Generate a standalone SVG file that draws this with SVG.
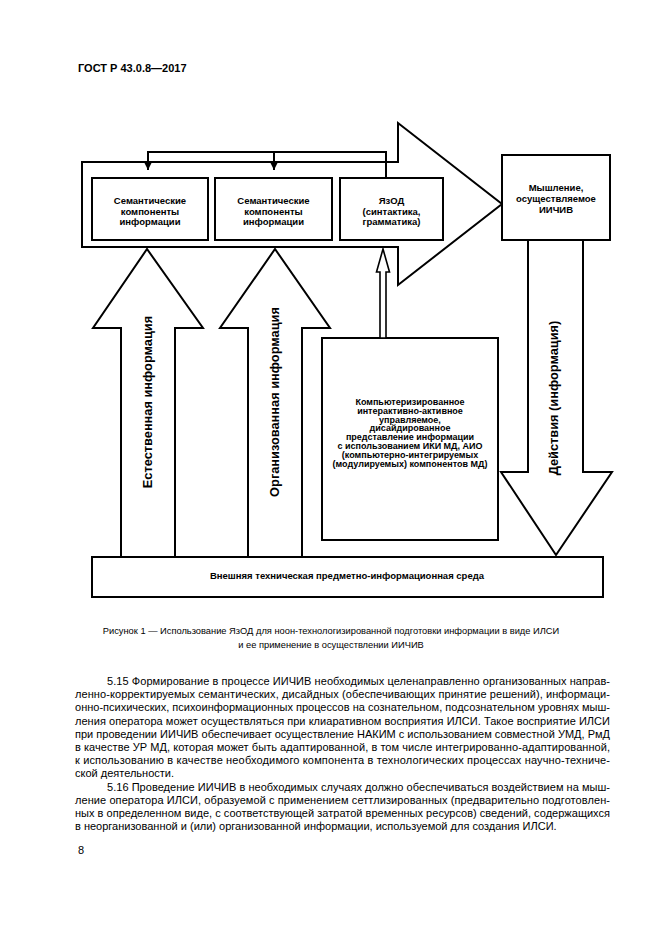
<svg xmlns="http://www.w3.org/2000/svg" width="661" height="935" viewBox="0 0 661 935">
<defs>
<style>
.ln{fill:none;stroke:#000;stroke-width:2;stroke-linejoin:miter}
.wf{fill:#fff;stroke:#000;stroke-width:2}
.bx{font-family:"Liberation Sans",Arial,sans-serif;font-weight:bold;font-size:9.5px;text-anchor:middle;fill:#000}
.bb{font-family:"Liberation Sans",Arial,sans-serif;font-weight:bold;font-size:9px;text-anchor:middle;fill:#000}
.vt{font-family:"Liberation Sans",Arial,sans-serif;font-weight:bold;font-size:12.8px;text-anchor:middle;fill:#000}
.body{font-family:"Liberation Sans",Arial,sans-serif;font-size:11px;fill:#000}
.cap{font-family:"Liberation Sans",Arial,sans-serif;font-size:9.3px;fill:#000;text-anchor:middle}
</style>
<marker id="ah" viewBox="0 0 8 10" refX="8" refY="5" markerWidth="8" markerHeight="10" markerUnits="userSpaceOnUse" orient="auto">
<path d="M0,1 L8,5 L0,9 Z" fill="#000"/>
</marker>
</defs>
<rect width="661" height="935" fill="#fff"/>
<text x="78" y="72" font-family="Liberation Sans,Arial,sans-serif" font-weight="bold" font-size="11">ГОСТ Р 43.0.8—2017</text>

<g id="big-arrow">
<polygon class="wf" points="82,162 398,162 398,123 502,204 398,285 398,247 82,247"/>
</g>

<g id="node-sem1">
<rect class="wf" x="92" y="178" width="116" height="62"/>
<text class="bx" x="150" y="204">Семантические</text>
<text class="bx" x="150" y="214.5">компоненты</text>
<text class="bx" x="150" y="225">информации</text>
</g>
<g id="node-sem2">
<rect class="wf" x="215" y="178" width="117" height="62"/>
<text class="bx" x="273.5" y="204">Семантические</text>
<text class="bx" x="273.5" y="214.5">компоненты</text>
<text class="bx" x="273.5" y="225">информации</text>
</g>
<g id="node-yazod">
<rect class="wf" x="340" y="178" width="103" height="62"/>
<text class="bx" x="391.5" y="204">ЯзОД</text>
<text class="bx" x="391.5" y="214.5">(синтактика,</text>
<text class="bx" x="391.5" y="225">грамматика)</text>
</g>
<g id="node-thinking">
<rect class="wf" x="502" y="155" width="108" height="85"/>
<text class="bx" x="556" y="191">Мышление,</text>
<text class="bx" x="556" y="202">осуществляемое</text>
<text class="bx" x="556" y="213">ИИЧИВ</text>
</g>
<g id="node-computer">
<rect class="wf" x="322" y="338" width="176" height="202"/>
<text class="bb" x="410" y="405">Компьютеризированное</text>
<text class="bb" x="410" y="413.8">интерактивно-активное</text>
<text class="bb" x="410" y="422.6">управляемое,</text>
<text class="bb" x="410" y="431.4">дисайдированное</text>
<text class="bb" x="410" y="440.2">представление информации</text>
<text class="bb" x="410" y="449">с использованием ИКИ МД, АИО</text>
<text class="bb" x="410" y="457.8">(компьютерно-интегрируемых</text>
<text class="bb" x="410" y="466.6">(модулируемых) компонентов МД)</text>
</g>
<g id="node-environment">
<rect class="wf" x="92" y="557" width="511" height="40"/>
<text class="bx" x="347" y="578.5" font-size="9.8">Внешняя техническая предметно-информационная среда</text>
</g>

<g id="connectors">
<polyline class="ln" points="386,178 386,152 148,152 148,170" marker-end="url(#ah)"/>
<line class="ln" x1="274" y1="152" x2="274" y2="170" marker-end="url(#ah)"/>
<polygon class="wf" points="121,557 121,328 93,328 147,249 203,328 175,328 175,557"/>
<polygon class="wf" points="248,557 248,328 220,328 275,249 330,328 302,328 302,557"/>
<polygon class="wf" points="528,240 528,472 501,472 556,555 612,472 583,472 583,240"/>
<polygon fill="#fff" stroke="#000" stroke-width="1.6" points="380,338 380,272 376.5,272 383,249 389.5,272 386,272 386,338"/>
<text class="vt" transform="translate(151.5,402) rotate(-90)">Естественная информация</text>
<text class="vt" transform="translate(278.5,402) rotate(-90)">Организованная информация</text>
<text class="vt" transform="translate(557.5,398) rotate(-90)">Действия (информация)</text>
</g>

<text class="cap" x="331" y="634">Рисунок 1 — Использование ЯзОД для ноон-технологизированной подготовки информации в виде ИЛСИ</text>
<text class="cap" x="331" y="648">и ее применение в осуществлении ИИЧИВ</text>

<g class="body">
<text x="107" y="685" textLength="503" lengthAdjust="spacing">5.15 Формирование в процессе ИИЧИВ необходимых целенаправленно организованных направ-</text>
<text x="75" y="698.2" textLength="535" lengthAdjust="spacing">ленно-корректируемых семантических, дисайдных (обеспечивающих принятие решений), информаци-</text>
<text x="75" y="711.4" textLength="535" lengthAdjust="spacing">онно-психических, психоинформационных процессов на сознательном, подсознательном уровнях мыш-</text>
<text x="75" y="724.6" textLength="535" lengthAdjust="spacing">ления оператора может осуществляться при клиаративном восприятия ИЛСИ. Такое восприятие ИЛСИ</text>
<text x="75" y="737.8" textLength="535" lengthAdjust="spacing">при проведении ИИЧИВ обеспечивает осуществление НАКИМ с использованием совместной УМД, РмД</text>
<text x="75" y="751" textLength="535" lengthAdjust="spacing">в качестве УР МД, которая может быть адаптированной, в том числе интегрированно-адаптированной,</text>
<text x="75" y="764.2" textLength="535" lengthAdjust="spacing">к использованию в качестве необходимого компонента в технологических процессах научно-техниче-</text>
<text x="75" y="777.4">ской деятельности.</text>
<text x="107" y="790.6" textLength="503" lengthAdjust="spacing">5.16 Проведение ИИЧИВ в необходимых случаях должно обеспечиваться воздействием на мыш-</text>
<text x="75" y="803.8" textLength="535" lengthAdjust="spacing">ление оператора ИЛСИ, образуемой с применением сеттлизированных (предварительно подготовлен-</text>
<text x="75" y="817" textLength="535" lengthAdjust="spacing">ных в определенном виде, с соответствующей затратой временных ресурсов) сведений, содержащихся</text>
<text x="75" y="830.2">в неорганизованной и (или) организованной информации, используемой для создания ИЛСИ.</text>
<text x="78" y="854">8</text>
</g>
</svg>
